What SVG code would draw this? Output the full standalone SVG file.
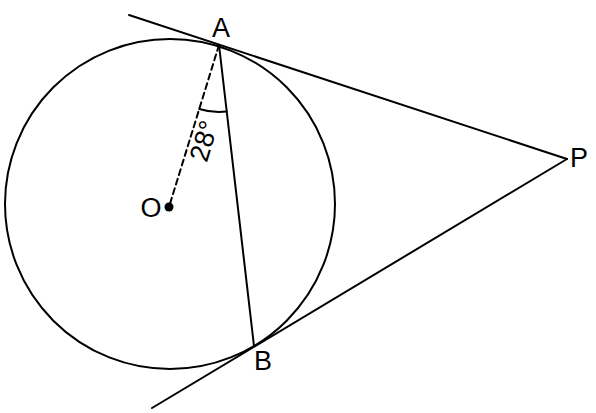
<svg xmlns="http://www.w3.org/2000/svg" width="596" height="413" viewBox="0 0 596 413">
<style>
.ln{stroke:#000;stroke-width:2;fill:none;stroke-linecap:round}
.lbl{font-family:"Liberation Sans",Arial,sans-serif;font-size:27px;fill:#000;text-anchor:middle;dominant-baseline:central}
</style>
<rect width="596" height="413" fill="#fff"/>
<g id="circle"><circle class="ln" cx="170" cy="204" r="165"/></g>
<g id="connectors">
<line class="ln" x1="129" y1="15" x2="567" y2="159"/>
<line class="ln" x1="152" y1="408" x2="567" y2="159"/>
<line class="ln" x1="219" y1="45" x2="254" y2="346"/>
<line class="ln" x1="219" y1="45" x2="169" y2="207" stroke-dasharray="6,4" stroke-linecap="butt"/>
<path class="ln" d="M199.2,109 A67,67 0 0 0 226.7,111.5"/>
</g>
<g id="O"><circle cx="169" cy="207" r="4.5" fill="#000"/><text class="lbl" x="151" y="208">O</text></g>
<g id="A"><text class="lbl" x="221" y="28">A</text></g>
<g id="B"><text class="lbl" x="263" y="361">B</text></g>
<g id="P"><text class="lbl" x="579" y="158">P</text></g>
<g id="angle"><text class="lbl" x="204" y="141" transform="rotate(-73 204 141)">28°</text></g>
</svg>
